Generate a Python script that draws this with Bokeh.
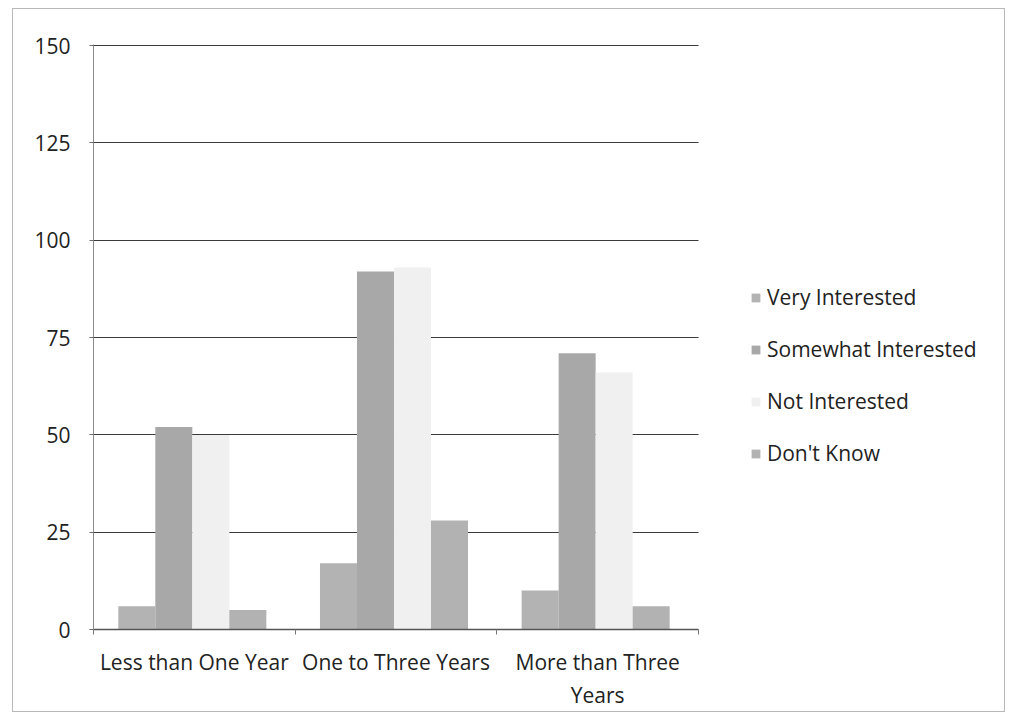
from bokeh.plotting import figure
from bokeh.models import ColumnDataSource, FixedTicker, Legend, LegendItem
from bokeh.transform import dodge
from bokeh.embed import file_html
from bokeh.resources import INLINE

# Interest in the program by length of time
categories = ["Less than One Year", "One to Three Years", "More than Three\nYears"]
series = ["Very Interested", "Somewhat Interested", "Not Interested", "Don't Know"]
very_interested = [6, 17, 10]
somewhat_interested = [52, 92, 71]
not_interested = [50, 93, 66]
dont_know = [5, 28, 6]
y_ticks = [0, 25, 50, 75, 100, 125, 150]

values = [very_interested, somewhat_interested, not_interested, dont_know]
colors = ["#b3b3b3", "#a8a8a8", "#f0f0f0", "#b2b2b2"]

FONT = "Open Sans"
FS = "21px"
n = len(categories)
centers = [i + 0.5 for i in range(n)]
src = ColumnDataSource(dict(x=centers, **{f"s{i}": v for i, v in enumerate(values)}))

# the frame runs on to the right edge so the legend can sit beside the bars;
# the axis and grid lines stop at the last category
x_end = n * 913 / 605
p = figure(width=993, height=704, x_range=(0, x_end), y_range=(0, 150.3),
           output_backend="svg", toolbar_location=None,
           min_border_left=80, min_border_top=35, min_border_bottom=84, min_border_right=0)
p.margin = (8, 0, 0, 12)
p.styles = {"border": "1px solid #b8b8b8"}
p.outline_line_color = None

bar_w = 0.1835
items = []
for i, name in enumerate(series):
    r = p.vbar(x=dodge("x", (i - 1.5) * bar_w - 0.01, range=p.x_range), top=f"s{i}",
               width=bar_w, bottom=0, source=src, fill_color=colors[i], line_color=None)
    items.append(LegendItem(label=name, renderers=[r]))

# y axis
p.yaxis.ticker = FixedTicker(ticks=y_ticks)
p.yaxis.axis_line_color = "#8a8a8a"
p.yaxis.major_tick_line_color = "#6a6a6a"
p.yaxis.major_tick_out = 4
p.yaxis.major_tick_in = 0
p.yaxis.minor_tick_line_color = None
p.yaxis.major_label_standoff = 19
p.yaxis.major_label_text_font = FONT
p.yaxis.major_label_text_font_size = FS
p.yaxis.major_label_text_color = "#222222"

# x axis: labels at group centers, ticks at group boundaries
p.xaxis.bounds = (0, n)
p.xaxis.ticker = FixedTicker(ticks=centers, minor_ticks=list(range(n + 1)))
p.xaxis.major_label_overrides = {c: lab for c, lab in zip(centers, categories)}
p.xaxis.axis_line_color = "#555555"
p.xaxis.axis_line_width = 1.5
p.xaxis.major_tick_line_color = None
p.xaxis.minor_tick_line_color = "#777777"
p.xaxis.minor_tick_out = 5
p.xaxis.minor_tick_in = 0
p.xaxis.major_label_standoff = 12
p.xaxis.major_label_text_font = FONT
p.xaxis.major_label_text_font_size = FS
p.xaxis.major_label_text_color = "#222222"

p.xgrid.grid_line_color = None
p.ygrid.ticker = FixedTicker(ticks=y_ticks)
p.ygrid.cross_bounds = (0, n)
p.ygrid.grid_line_color = "#3a3a3a"
p.ygrid.grid_line_width = 1

legend = Legend(items=items, location=(657, 162), orientation="vertical",
                glyph_width=11, glyph_height=11, label_standoff=6,
                label_height=24, spacing=24, padding=0, margin=0,
                border_line_color=None, background_fill_alpha=0,
                label_text_font=FONT, label_text_font_size=FS,
                label_text_color="#222222")
p.add_layout(legend, "center")

open("out.html", "w").write(file_html(p, INLINE))
